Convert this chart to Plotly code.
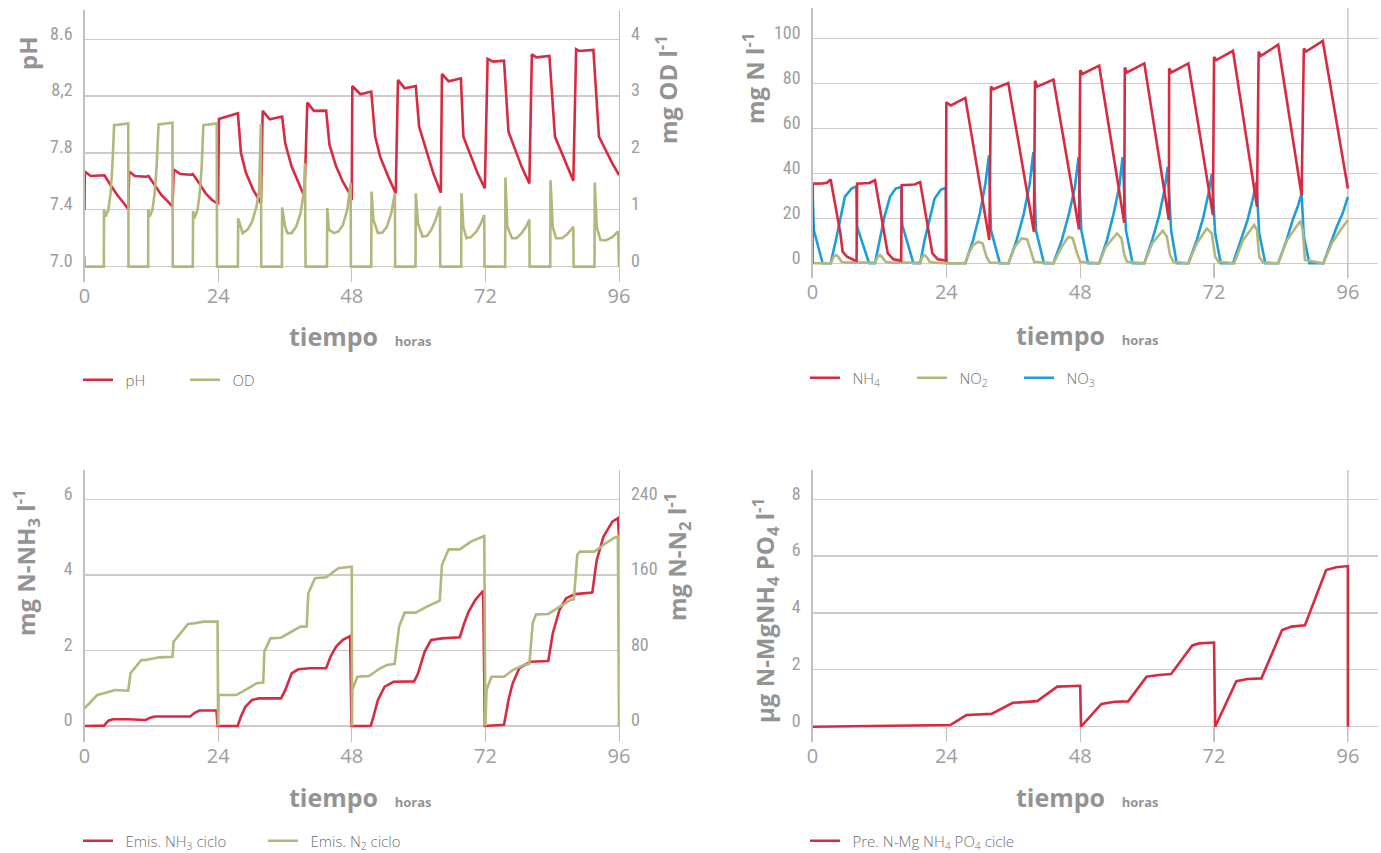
import plotly.graph_objects as go

# ---------------- DATA ----------------
# Panel 1: pH and dissolved oxygen (OD)
ph_t = [0, 0.05, 1.1, 3.26, 3.57, 4.68, 5.88, 7.07, 7.86,
        8.02, 9.05, 11.04, 11.5, 12.6, 13.8, 15.0, 15.8,
        16.04, 17.2, 19.1, 19.45, 20.6, 21.75, 22.9, 24.0,
        24.14, 27.55, 28.1, 29.0, 30.3, 31.7,
        32.0, 33.27, 35.5, 36.05, 37.2, 38.4, 39.5,
        40.02, 41.2, 43.4, 44.0, 45.2, 46.4, 47.6, 48.0,
        48.1, 49.55, 51.5, 52.2, 53.1, 54.55, 55.9,
        56.3, 57.5, 59.5, 60.1, 61.5, 62.65, 64.0,
        64.2, 65.4, 67.6, 68.05, 69.4, 70.6, 71.9,
        72.4, 73.4, 75.35, 76.15, 77.3, 78.5, 79.9,
        80.35, 81.15, 83.5, 84.5, 85.7, 86.9, 87.8,
        88.3, 88.85, 91.4, 92.4, 93.6, 94.8, 96.0]
ph_v = [7.40, 7.67, 7.638, 7.638, 7.643, 7.575, 7.504, 7.446, 7.404,
        7.669, 7.638, 7.633, 7.638, 7.575, 7.504, 7.457, 7.422,
        7.683, 7.652, 7.647, 7.652, 7.587, 7.516, 7.469, 7.441,
        8.039, 8.079, 7.80, 7.66, 7.54, 7.446,
        8.096, 8.037, 8.056, 7.868, 7.704, 7.587, 7.493,
        8.154, 8.096, 8.098, 7.856, 7.704, 7.598, 7.516, 7.469,
        8.271, 8.213, 8.232, 7.915, 7.774, 7.633, 7.516,
        8.314, 8.255, 8.271, 7.985, 7.809, 7.657, 7.52,
        8.356, 8.304, 8.325, 7.915, 7.774, 7.657, 7.551,
        8.462, 8.443, 8.45, 7.95, 7.833, 7.704, 7.586,
        8.494, 8.473, 8.483, 7.915, 7.798, 7.692, 7.605,
        8.53, 8.518, 8.525, 7.915, 7.821, 7.727, 7.645]

od_t = [0, 0.05, 3.47, 3.5, 3.75, 4.29, 4.68, 5.0, 5.32, 7.86, 7.9,
        11.43, 11.45, 11.7, 12.2, 12.6, 12.95, 13.3, 15.8, 15.85,
        19.45, 19.5, 19.75, 20.3, 20.7, 21.05, 21.35, 23.75, 23.8,
        27.55, 27.6, 28.4, 29.3, 30.1, 30.9, 31.36, 31.68, 31.75,
        35.45, 35.5, 36.05, 36.45, 37.2, 38.0, 38.8, 39.45, 39.6, 39.7,
        43.55, 43.6, 43.9, 44.8, 45.6, 46.4, 47.2, 47.8, 47.85,
        51.5, 51.55, 51.9, 52.7, 53.5, 54.3, 55.1, 55.75, 55.8,
        59.45, 59.5, 59.9, 60.7, 61.5, 62.3, 63.05, 63.85, 63.9,
        67.65, 67.7, 68.05, 68.6, 69.4, 70.4, 71.2, 71.8, 71.85,
        75.55, 75.6, 75.95, 76.8, 77.6, 78.5, 79.3, 79.9, 79.95,
        83.65, 83.7, 84.1, 84.7, 85.7, 86.6, 87.4, 87.8, 87.85,
        91.6, 91.65, 92.0, 92.65, 93.6, 94.8, 95.85, 96.0]
od_v = [0.18, 0, 0, 1.01, 0.88, 1.0, 1.29, 1.76, 2.49, 2.52, 0,
        0, 1.01, 0.88, 1.0, 1.29, 1.76, 2.5, 2.53, 0,
        0, 0.98, 0.85, 1.0, 1.29, 1.76, 2.49, 2.52, 0,
        0, 0.85, 0.59, 0.65, 0.79, 1.06, 1.35, 2.51, 0,
        0, 1.04, 0.70, 0.59, 0.59, 0.70, 0.94, 1.35, 1.82, 0,
        0, 1.03, 0.65, 0.59, 0.62, 0.73, 1.0, 1.47, 0,
        0, 1.32, 0.82, 0.59, 0.60, 0.70, 0.94, 1.29, 0,
        0, 1.29, 0.76, 0.53, 0.54, 0.65, 0.82, 1.06, 0,
        0, 1.29, 0.70, 0.50, 0.52, 0.62, 0.76, 0.91, 0,
        0, 1.57, 0.70, 0.50, 0.50, 0.59, 0.70, 0.83, 0,
        0, 1.52, 0.70, 0.50, 0.50, 0.56, 0.65, 0.70, 0,
        0, 1.48, 0.70, 0.47, 0.46, 0.52, 0.62, 0]

# Panel 2: NH4, NO2, NO3 (mg N/l)
nh4_t = [0, 0.05, 1.82, 2.6, 3.25, 5.0, 5.4, 6.2, 7.4, 7.9,
         8.0, 9.4, 10.2, 11.2, 12.9, 13.5, 14.5, 15.9,
         16.0, 17.7, 18.3, 19.3, 20.9, 21.5, 22.45, 23.9,
         24.0, 24.8, 27.4, 31.7,
         32.0, 32.4, 35.1, 39.7,
         39.9, 40.3, 43.2, 47.8,
         48.0, 48.4, 51.4, 55.9,
         56.0, 56.4, 59.5, 63.9,
         63.95, 64.35, 67.4, 71.8,
         72.0, 72.4, 75.4, 79.7,
         80.0, 80.4, 83.5, 87.7,
         88.1, 88.5, 91.5, 96.0]
nh4_v = [0, 35.4, 35.5, 35.8, 37.2, 13.3, 5.2, 2.9, 1.5, 1.2,
         35.4, 35.4, 35.7, 36.9, 13.3, 4.4, 1.8, 1.2,
         34.7, 34.7, 35.0, 36.1, 13.3, 4.4, 1.8, 1.2,
         71.5, 70.1, 73.5, 10.3,
         78.5, 77.4, 80.1, 14.0,
         81.1, 78.5, 81.6, 15.0,
         85.8, 84.1, 87.8, 18.0,
         87.0, 84.8, 88.8, 19.2,
         86.6, 84.8, 88.8, 21.4,
         91.7, 90.3, 94.4, 25.1,
         94.0, 92.2, 97.1, 30.2,
         95.4, 94.1, 98.8, 33.2]

no2_t = [0, 3.25, 3.8, 4.2, 4.6, 5.2, 5.8, 11.2, 11.7, 12.1, 12.5, 13.1, 13.7,
         19.3, 19.7, 20.1, 20.5, 21.0, 21.7, 24.0,
         27.4, 28.0, 28.8, 29.75, 30.5, 31.2, 31.8,
         35.15, 36.3, 37.5, 38.5, 39.3, 39.75,
         43.2, 44.7, 45.9, 46.65, 47.45, 48.0,
         51.4, 52.6, 54.6, 55.4, 55.9, 56.4,
         59.5, 60.9, 62.8, 63.55, 64.1, 64.7,
         67.4, 68.9, 70.7, 71.6, 72.2, 72.8,
         75.6, 77.2, 79.2, 79.7, 80.1, 80.8,
         83.5, 85.1, 87.5, 87.9, 88.3,
         91.6, 93.1, 94.65, 96.0]
no2_v = [0, 0, 2.9, 3.7, 2.9, 0.7, 0.3, 0.3, 2.9, 3.7, 2.7, 0.7, 0.3,
         0.3, 2.9, 3.7, 2.7, 0.7, 0.3, 0,
         0, 4.4, 8.1, 9.6, 8.8, 2.9, 0.3,
         0, 7.4, 11.1, 10.6, 4.4, 0.7,
         0, 7.4, 11.8, 11.1, 4.4, 0.7,
         0, 7.4, 13.3, 11.1, 3.7, 0.7,
         0, 8.8, 14.5, 11.8, 3.7, 0.7,
         0, 8.8, 15.5, 13.3, 2.9, 0.7,
         0, 10.3, 17.0, 14.7, 2.9, 0.4,
         0, 10.3, 18.9, 14.7, 1.5,
         0, 8.8, 14.7, 19.2]

no3_t = [0, 0.24, 1.82, 3.25, 4.2, 5.0, 5.8, 7.0, 7.85,
         8.0, 10.15, 11.2, 12.1, 12.9, 13.9, 14.9, 15.9,
         16.1, 18.1, 19.3, 20.1, 20.9, 21.9, 23.0, 23.9,
         24.05, 27.4, 28.8, 30.0, 31.0, 31.65, 32.0, 33.6,
         35.15, 36.6, 37.9, 38.95, 39.6, 40.07, 41.5,
         43.2, 44.7, 46.0, 47.05, 47.7, 48.2, 49.4,
         51.4, 52.8, 54.0, 55.0, 55.6, 56.2, 57.4,
         59.5, 60.9, 62.1, 63.1, 63.7, 64.3, 65.3,
         67.4, 68.9, 70.1, 71.0, 71.6, 72.2, 73.2,
         75.4, 76.8, 78.0, 78.9, 79.6, 80.1, 81.2,
         83.5, 85.0, 86.1, 87.0, 87.7, 88.1, 89.1,
         91.6, 92.9, 94.0, 95.05, 96.0]
no3_v = [33.2, 14.7, 0, 0, 10.3, 20.6, 29.5, 33.2, 34.2,
         16.2, 0, 0, 10.3, 20.6, 29.5, 33.2, 33.9,
         17.0, 0, 0, 10.3, 19.2, 28.8, 32.7, 33.6,
         0, 0, 10.3, 22.1, 35.4, 47.9, 14.7, 0,
         0, 10.3, 22.1, 35.4, 49.4, 14.7, 0,
         0, 10.3, 22.1, 33.9, 47.2, 14.7, 0,
         0, 10.3, 22.1, 33.9, 47.2, 14.7, 0,
         0, 10.3, 20.6, 32.4, 42.8, 14.7, 0,
         0, 10.3, 20.6, 31.0, 39.8, 13.3, 0,
         0, 10.3, 19.2, 28.0, 36.1, 13.3, 0,
         0, 10.3, 19.2, 25.1, 31.0, 11.8, 0,
         0, 8.8, 16.2, 22.1, 29.5]

# Panel 3: cumulative emissions NH3 (left axis) and N2 (right axis)
nh3_t = [0, 3.5, 4.29, 5.08, 7.86, 11.0, 11.8, 12.6, 19.0, 19.8, 20.6, 23.7, 23.9,
         27.5, 28.1, 28.9, 30.1, 31.3, 35.3, 36.05, 37.2, 38.4, 40.4, 43.4, 44.2, 45.2, 46.4, 47.7, 47.96,
         51.4, 51.9, 52.7, 53.9, 55.5, 59.2, 59.9, 61.1, 62.25, 64.2, 67.4, 68.2, 69.0, 70.2, 71.6, 71.9,
         75.35, 76.15, 76.9, 78.1, 80.1, 83.3, 84.1, 85.3, 86.5, 88.1, 91.2, 92.0, 93.2, 94.8, 95.8, 96.0]
nh3_v = [0, 0.01, 0.14, 0.18, 0.18, 0.16, 0.22, 0.25, 0.25, 0.35, 0.41, 0.41, 0,
         0, 0.25, 0.51, 0.69, 0.73, 0.73, 0.95, 1.39, 1.5, 1.53, 1.53, 1.84, 2.1, 2.28, 2.38, 0,
         0, 0.25, 0.69, 1.04, 1.17, 1.18, 1.39, 1.97, 2.28, 2.32, 2.35, 2.72, 3.03, 3.34, 3.58, 0,
         0.03, 0.69, 1.13, 1.53, 1.70, 1.72, 2.45, 3.07, 3.38, 3.49, 3.53, 4.39, 5.01, 5.41, 5.50, 5.01]

n2_t = [0, 2.3, 3.5, 5.5, 7.86, 8.26, 10.2, 11.0, 13.4, 15.8, 16.0, 18.6, 19.8, 21.4, 23.9, 24.0,
        24.1, 27.3, 29.3, 30.9, 32.1, 32.3, 33.4, 35.25, 38.8, 39.9, 40.2, 41.4, 43.4, 45.6, 48.0, 48.05,
        48.1, 49.0, 51.1, 53.1, 54.3, 55.7, 56.5, 57.5, 59.5, 61.5, 63.4, 63.8, 64.2, 65.4, 67.4, 69.4, 71.8, 72.0,
        72.2, 73.1, 75.35, 76.9, 78.9, 79.9, 80.5, 81.1, 83.3, 85.3, 87.3, 87.9, 88.5, 89.0, 91.6, 93.6, 95.2, 95.8, 96.0]
n2_v = [18.7, 32.8, 34.6, 38.1, 37.4, 55.8, 69.9, 69.9, 72.7, 73.4, 89.3, 108, 108.7, 110.5, 110.5, 0,
        32.8, 32.8, 39.9, 45.2, 45.9, 78.7, 92.8, 93.5, 105.2, 105.2, 140.5, 156.4, 157.4, 167, 168.7, 0,
        38.1, 52.2, 52.9, 61.1, 64.6, 65.7, 105.2, 120, 120, 126.4, 131.7, 132.7, 170.5, 187, 187, 195.2, 201.2, 0,
        38.1, 52.2, 52.2, 59.3, 64.6, 65.7, 108.7, 118.2, 118.6, 126.4, 133.4, 134.1, 181, 184.6, 184.6, 193.4, 199.4, 200.5, 0]

# Panel 4: precipitated N-MgNH4PO4
str_t = [0, 24.7, 27.6, 32.1, 35.9, 38.3, 40.3, 43.9, 48.0, 48.15,
         51.8, 54.2, 56.6, 59.9, 62.1, 64.3, 68.1, 69.3, 72.0, 72.2,
         76.0, 78.0, 80.5, 84.2, 85.9, 88.3, 92.1, 93.9, 96.0, 96.0]
str_v = [0, 0.06, 0.41, 0.45, 0.84, 0.88, 0.90, 1.41, 1.44, 0,
         0.80, 0.88, 0.89, 1.76, 1.82, 1.85, 2.86, 2.93, 2.96, 0,
         1.60, 1.68, 1.70, 3.40, 3.52, 3.57, 5.51, 5.61, 5.65, 0]

hour_ticks = [0, 24, 48, 72, 96]
ph_ticks = [7.0, 7.4, 7.8, 8.2, 8.6]
ph_labels = ["7.0", "7.4", "7.8", "8,2", "8.6"]
od_ticks = [0, 1, 2, 3, 4]
n_ticks = [0, 20, 40, 60, 80, 100]
nh3_ticks = [0, 2, 4, 6]
n2_ticks = [0, 80, 160, 240]
str_ticks = [0, 2, 4, 6, 8]

# ---------------- STYLE ----------------
RED = "#d82b42"
GREEN = "#b3b77b"
BLUE = "#1b9edb"
GRID = "#d0caca"
AXIS = "#c4bebe"
TICK = "#9d9d9d"
TITLE = "#939393"
LEG = "#6f6f6f"
W, H = 1381, 853
LW = 2.6

NARROW = "Liberation Sans Narrow, Roboto Condensed, Arial Narrow, DejaVu Sans Condensed, Roboto, sans-serif"
SANS = "Open Sans, Lato, sans-serif"
SP = "\u2002"


def fx(p):
    return p / W


def fy(p):
    return 1 - p / H


fig = go.Figure()

# panel 1
fig.add_trace(go.Scatter(x=od_t, y=od_v, name=SP + "OD", mode="lines", line=dict(color=GREEN, width=LW),
                         xaxis="x", yaxis="y2", legend="legend", legendrank=2))
fig.add_trace(go.Scatter(x=ph_t, y=ph_v, name=SP + "pH", mode="lines", line=dict(color=RED, width=LW),
                         xaxis="x", yaxis="y", legend="legend", legendrank=1))
# panel 2
fig.add_trace(go.Scatter(x=no3_t, y=no3_v, name=SP + "NO<sub>3</sub>", mode="lines",
                         line=dict(color=BLUE, width=LW), xaxis="x2", yaxis="y3", legend="legend2", legendrank=3))
fig.add_trace(go.Scatter(x=no2_t, y=no2_v, name=SP + "NO<sub>2</sub>", mode="lines",
                         line=dict(color=GREEN, width=LW), xaxis="x2", yaxis="y3", legend="legend2", legendrank=2))
fig.add_trace(go.Scatter(x=nh4_t, y=nh4_v, name=SP + "NH<sub>4</sub>", mode="lines",
                         line=dict(color=RED, width=LW), xaxis="x2", yaxis="y3", legend="legend2", legendrank=1))
# panel 3
fig.add_trace(go.Scatter(x=n2_t, y=n2_v, name=SP + "Emis. N<sub>2</sub> ciclo", mode="lines",
                         line=dict(color=GREEN, width=LW), xaxis="x3", yaxis="y5", legend="legend3", legendrank=2))
fig.add_trace(go.Scatter(x=nh3_t, y=nh3_v, name=SP + "Emis. NH<sub>3</sub> ciclo", mode="lines",
                         line=dict(color=RED, width=LW), xaxis="x3", yaxis="y4", legend="legend3", legendrank=1))
# panel 4
fig.add_trace(go.Scatter(x=str_t, y=str_v, name=SP + "Pre. N-Mg NH<sub>4</sub> PO<sub>4</sub> cicle", mode="lines",
                         line=dict(color=RED, width=LW), xaxis="x4", yaxis="y6", legend="legend4", legendrank=1))

left_dom = [fx(84.5), fx(619)]
right_dom = [fx(812.5), fx(1378)]
top_dom1 = [fy(281.7), fy(10)]
top_dom2 = [fy(278.3), fy(8.3)]
bot_dom = [fy(741.7), fy(470)]


def xax(domain, rng, anchor):
    return dict(domain=domain, range=rng, anchor=anchor, tickvals=hour_ticks, ticks="inside", ticklen=15,
                tickwidth=1.2, tickcolor=AXIS, showgrid=False, zeroline=False, showline=False,
                automargin=False, tickfont=dict(family=SANS, size=20, color=TICK), fixedrange=True)


def yax(domain, rng, anchor, tickvals, ticktext=None, side="left", grid=True, overlaying=None):
    d = dict(domain=domain, range=rng, anchor=anchor, tickvals=tickvals, side=side, showgrid=grid,
             gridcolor=GRID, gridwidth=1.3, zeroline=False, showline=True, linecolor=AXIS, linewidth=1.3,
             automargin=False, ticks="", tickfont=dict(family=NARROW, size=18, color=TICK),
             ticklabelshift=-6, ticklabelstandoff=7, fixedrange=True)
    if ticktext is not None:
        d["ticktext"] = ticktext
    if overlaying:
        d["overlaying"] = overlaying
    return d


fig.update_layout(
    width=W, height=H, margin=dict(l=0, r=0, t=0, b=0, autoexpand=False),
    paper_bgcolor="white", plot_bgcolor="rgba(0,0,0,0)",
    xaxis=xax(left_dom, [0, 96], "y"),
    yaxis=yax(top_dom1, [6.894, 8.806], "x", ph_ticks, ph_labels),
    yaxis2=yax(top_dom1, [-0.265, 4.515], "x", od_ticks, side="right", grid=False, overlaying="y"),
    xaxis2=xax(right_dom, [0, 101.4], "y3"),
    yaxis3=yax(top_dom2, [-6.67, 113.3], "x2", n_ticks),
    xaxis3=xax(left_dom, [0, 96], "y4"),
    yaxis4=yax(bot_dom, [-0.416, 6.776], "x3", nh3_ticks),
    yaxis5=yax(bot_dom, [-16.6, 271.0], "x3", n2_ticks, side="right", grid=False, overlaying="y4"),
    xaxis4=xax(right_dom, [0, 101.4], "y6"),
    yaxis6=yax(bot_dom, [-0.528, 9.03], "x4", str_ticks),
)

leg_common = dict(orientation="h", xanchor="left", yanchor="middle", bgcolor="rgba(0,0,0,0)",
                  font=dict(family=SANS, size=15, color=LEG, weight=300), traceorder="normal",
                  itemclick=False, itemdoubleclick=False)
fig.update_layout(
    legend=dict(leg_common, x=fx(78), y=fy(380), entrywidth=62),
    legend2=dict(leg_common, x=fx(805), y=fy(378), entrywidth=62),
    legend3=dict(leg_common, x=fx(78), y=fy(841), entrywidth=140),
    legend4=dict(leg_common, x=fx(805), y=fy(841), entrywidth=200),
)

# vertical reference line at 96 h on the right-hand panels
for xr, yr in (("x2", "y3 domain"), ("x4", "y6 domain")):
    fig.add_shape(type="line", xref=xr, yref=yr, x0=96, x1=96, y0=0, y1=1,
                  line=dict(color=AXIS, width=1.3), layer="below")

title_font = dict(family=SANS, size=24, color=TITLE, weight=700)
anns = [
    ("pH", 27, 53),
    ("mg OD l<sup>-1</sup>", 666, 90),
    ("mg N l<sup>-1</sup>", 754, 79),
    ("mg N-NH<sub>3</sub> l<sup>-1</sup>", 26, 563),
    ("mg N-N<sub>2</sub> l<sup>-1</sup>", 677, 557),
    ("\u00b5g N-MgNH<sub>4</sub> PO<sub>4</sub> l<sup>-1</sup>", 765, 611),
]
for txt, x, y in anns:
    fig.add_annotation(text=txt, x=fx(x), y=fy(y), xref="paper", yref="paper", showarrow=False,
                       textangle=-90, xanchor="center", yanchor="middle", font=title_font)

xt = "tiempo\u2002\u2009<span style='font-size:13px'>horas</span>"
for x, y in ((287, 336), (1014, 335), (287, 797), (1014, 797)):
    fig.add_annotation(text=xt, x=fx(x), y=fy(y), xref="paper", yref="paper", showarrow=False,
                       xanchor="left", yanchor="middle", font=dict(family=SANS, size=25, color=TITLE, weight=700))

fig.write_html("out.html", config={"displayModeBar": False, "staticPlot": True},
               post_script="document.body.style.margin='0';")
